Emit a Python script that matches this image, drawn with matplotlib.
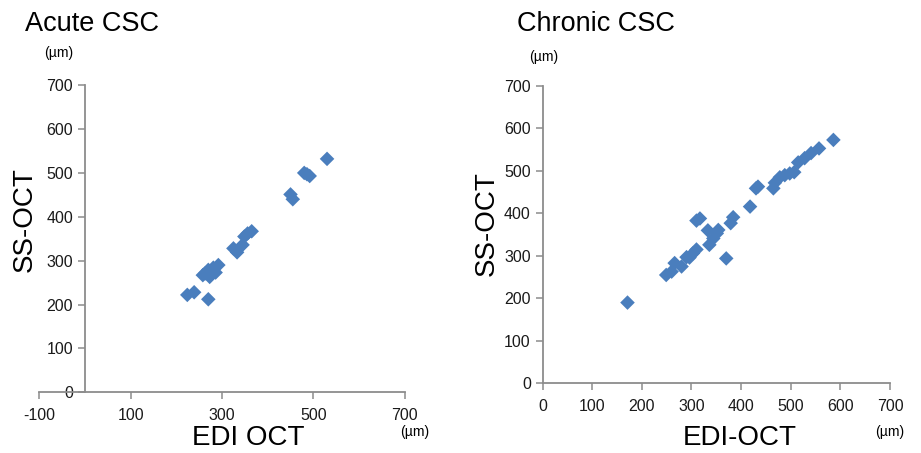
import matplotlib
matplotlib.use("Agg")
import matplotlib.pyplot as plt

plt.rcParams['font.family'] = ['Liberation Sans', 'DejaVu Sans']
plt.rcParams['axes.unicode_minus'] = False

# Acute CSC data (EDI OCT vs SS-OCT, µm)
acute_edi = [530, 480, 486, 492, 450, 455, 365, 356, 349, 345, 325, 333,
             292, 281, 286, 273, 258, 263, 270, 239, 224, 270]
acute_ss = [532, 500, 497, 493, 451, 440, 367, 362, 355, 336, 328, 319,
            290, 284, 273, 263, 267, 271, 279, 228, 222, 212]

# Chronic CSC data (EDI-OCT vs SS-OCT, µm)
chronic_edi = [171, 586, 557, 541, 528, 515, 507, 498, 488, 478, 468, 465,
               434, 430, 418, 384, 379, 370, 351, 354, 344, 336, 333, 317,
               310, 310, 303, 296, 290, 280, 266, 260, 249]
chronic_ss = [190, 573, 553, 542, 530, 520, 497, 494, 490, 485, 472, 459,
              463, 459, 416, 391, 377, 294, 353, 361, 341, 326, 360, 388,
              383, 315, 306, 296, 297, 275, 283, 263, 255]

acute_xticks = [-100, 100, 300, 500, 700]
chronic_xticks = [0, 100, 200, 300, 400, 500, 600, 700]
yticks = [0, 100, 200, 300, 400, 500, 600, 700]

marker_color = '#4a7ebd'
axis_color = '#8c8c8c'

fig = plt.figure(figsize=(9.21, 4.53), dpi=100)

def style(ax):
    for s in ['top', 'right']:
        ax.spines[s].set_visible(False)
    for s in ['left', 'bottom']:
        ax.spines[s].set_color(axis_color)
        ax.spines[s].set_linewidth(1.3)
    ax.tick_params(axis='both', colors=axis_color, labelcolor='#1a1a1a',
                   labelsize=11.5, length=5, width=1.1, direction='out')
    ax.set_yticks(yticks)
    ax.set_ylim(0, 700)

# Left: Acute
ax1 = fig.add_axes([0.0427, 0.134, 0.3967, 0.678])
ax1.scatter(acute_edi, acute_ss, marker='D', s=55, color=marker_color,
            edgecolors='none', zorder=3, clip_on=False)
ax1.set_xlim(-100, 700)
ax1.set_xticks(acute_xticks)
ax1.spines['left'].set_position(('data', 0))
style(ax1)
ax1.tick_params(axis='x', pad=6)

# Right: Chronic
ax2 = fig.add_axes([0.5892, 0.1539, 0.3771, 0.6563])
ax2.scatter(chronic_edi, chronic_ss, marker='D', s=55, color=marker_color,
            edgecolors='none', zorder=3, clip_on=False)
ax2.set_xlim(0, 700)
ax2.set_xticks(chronic_xticks)
style(ax2)
ax2.tick_params(axis='x', pad=6)

# Texts
fig.text(25/921, 1 - 24/453, 'Acute CSC', fontsize=19.5, va='center', ha='left')
fig.text(44/921, 1 - 53/453, '(µm)', fontsize=10, va='center', ha='left')
fig.text(25/921, 1 - 220/453, 'SS-OCT', fontsize=20, rotation=90,
         va='center', ha='center')
fig.text(248/921, 1 - 438/453, 'EDI OCT', fontsize=20, va='center', ha='center')
fig.text(415/921, 1 - 432/453, '(µm)', fontsize=10, va='center', ha='center')

fig.text(517/921, 1 - 24/453, 'Chronic CSC', fontsize=19.5, va='center', ha='left')
fig.text(529/921, 1 - 57/453, '(µm)', fontsize=10, va='center', ha='left')
fig.text(487/921, 1 - 224/453, 'SS-OCT', fontsize=20, rotation=90,
         va='center', ha='center')
fig.text(740/921, 1 - 438/453, 'EDI-OCT', fontsize=20, va='center', ha='center')
fig.text(890/921, 1 - 432/453, '(µm)', fontsize=10, va='center', ha='center')

fig.savefig('out.png', dpi=100, facecolor='white')
